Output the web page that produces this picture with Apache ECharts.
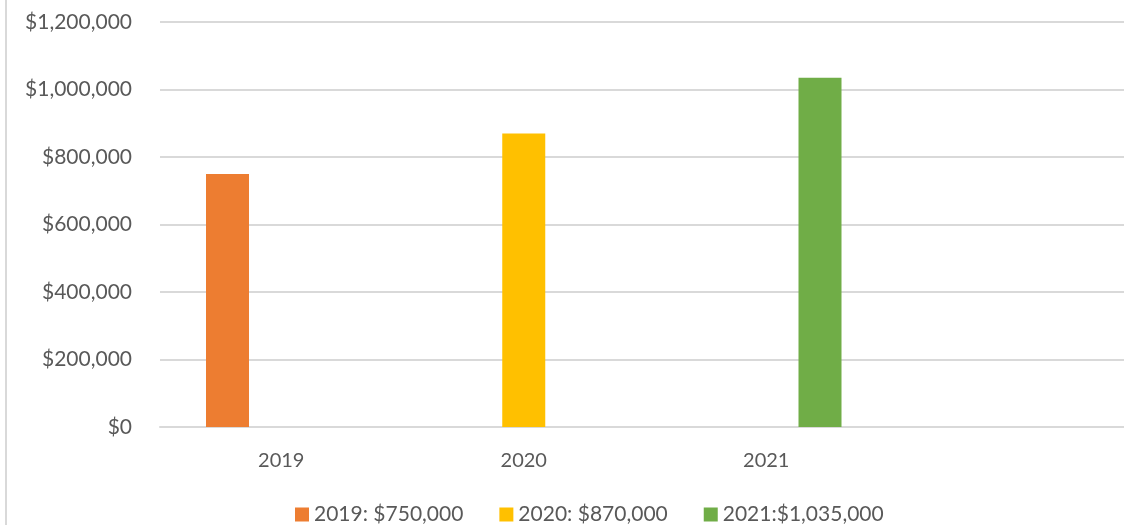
<!DOCTYPE html>
<html>
<head>
<meta charset="utf-8">
<script src="https://cdn.jsdelivr.net/npm/echarts@6/dist/echarts.min.js"></script>
<style>
html,body{margin:0;padding:0;background:#fff;overflow:hidden;}
#chart{width:1130px;height:525px;}
</style>
</head>
<body>
<div id="chart"></div>
<script>
var categories = ['2019','2020','2021',''];
var seriesNames = ['2019: $750,000','2020: $870,000','2021:$1,035,000'];
var values = [750000, 870000, 1035000];
var colors = ['#ED7D31','#FFC000','#70AD47'];

function money(v){
    return '$' + v.toString().replace(/\B(?=(\d{3})+(?!\d))/g, ',');
}

var series = [];
for (var i = 0; i < seriesNames.length; i++) {
    var d = [];
    for (var j = 0; j < categories.length; j++) {
        d.push(j == i ? values[i] : '-');
    }
    series.push({
        name: seriesNames[i],
        type: 'bar',
        barWidth: 43,
        barGap: '25%',
        itemStyle: {color: colors[i]},
        data: d
    });
}

var option = {
    animation: false,
    textStyle: {fontFamily: 'Lato'},
    grid: {left: 160, right: 0, top: 22, bottom: 98},
    legend: {
        left: 290,
        top: 499,
        itemWidth: 14,
        itemHeight: 14,
        itemGap: 36,
        icon: 'rect',
        textStyle: {color: '#595959', fontSize: 21, fontFamily: 'Lato'},
        data: seriesNames
    },
    xAxis: {
        type: 'category',
        data: categories,
        axisLine: {lineStyle: {color: '#d9d9d9', width: 2}},
        axisTick: {show: false},
        axisLabel: {color: '#595959', fontSize: 20, margin: 24, fontFamily: 'Lato'}
    },
    yAxis: {
        type: 'value',
        min: 0,
        max: 1200000,
        interval: 200000,
        axisLine: {show: false},
        axisTick: {show: false},
        splitLine: {lineStyle: {color: '#d9d9d9', width: 2}},
        axisLabel: {color: '#595959', fontSize: 21, margin: 28, fontFamily: 'Lato', formatter: money}
    },
    graphic: [{
        type: 'line',
        shape: {x1: 6, y1: 0, x2: 6, y2: 525},
        style: {stroke: '#d9d9d9', lineWidth: 2}
    }],
    series: series
};

var myChart = echarts.init(document.getElementById('chart'));
myChart.setOption(option);
</script>
</body>
</html>
